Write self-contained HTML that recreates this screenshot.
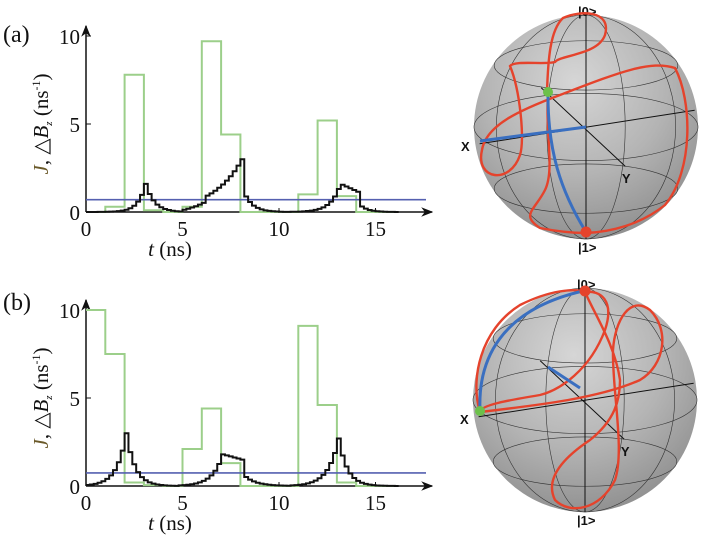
<!DOCTYPE html>
<html><head><meta charset="utf-8"><style>
body{margin:0;background:#fff;width:722px;height:535px;overflow:hidden}
svg{display:block}
text{font-family:"Liberation Serif",serif;fill:#111}
.tk{font-size:21px}
.bl{font-family:"Liberation Sans",sans-serif;font-weight:bold;font-size:13px}
</style></head><body>
<svg id="s" width="722" height="535" viewBox="0 0 722 535">
<defs>
<radialGradient id="g" cx="0.45" cy="0.3" r="0.75">
<stop offset="0" stop-color="#d6d6d6"/><stop offset="0.55" stop-color="#b4b4b4"/><stop offset="1" stop-color="#8c8c8c"/>
</radialGradient>
<marker id="ar" viewBox="0 0 10 10" refX="9" refY="5" markerWidth="8" markerHeight="8" orient="auto"><path d="M0,1 L10,5 L0,9 L3,5z" fill="#111"/></marker>
</defs>
<g id="plots"></g>
<text x="3" y="42" font-size="24">(a)</text>
<text x="3" y="310" font-size="24">(b)</text>
<g id="spheres"></g>
</svg>
<script>
const NS="http://www.w3.org/2000/svg";
function el(p,t,a,txt){const e=document.createElementNS(NS,t);for(const k in a)e.setAttribute(k,a[k]);if(txt!==undefined)e.textContent=txt;p.appendChild(e);return e;}
const P=document.getElementById('plots');
function plot(y0,green,blk,blue){
 const X=t=>86+t*19.3, Y=v=>y0-v*17.6;
 el(P,'line',{x1:86,y1:y0,x2:432,y2:y0,stroke:'#111','stroke-width':1.5,'marker-end':'url(#ar)'});
 el(P,'line',{x1:86,y1:y0,x2:86,y2:y0-186,stroke:'#111','stroke-width':1.5,'marker-end':'url(#ar)'});
 [0,5,10,15].forEach(t=>{el(P,'text',{x:X(t),y:y0+24,'text-anchor':'middle',class:'tk'},t);});
 [0,5,10].forEach(v=>{el(P,'text',{x:80,y:Y(v)+8,'text-anchor':'end',class:'tk'},v);
   if(v>0)el(P,'line',{x1:86,y1:Y(v),x2:91,y2:Y(v),stroke:'#111'});});
 [5,10,15].forEach(t=>el(P,'line',{x1:X(t),y1:y0,x2:X(t),y2:y0-4,stroke:'#111'}));
 const tl=el(P,'text',{x:170,y:y0+44,'text-anchor':'middle','font-size':'21'});
 tl.innerHTML='<tspan font-style="italic">t</tspan> (ns)';
 const yl=el(P,'text',{transform:`translate(48 ${y0-88}) rotate(-90)`,'text-anchor':'middle','font-size':'21'});
 yl.innerHTML='<tspan font-style="italic" fill="#6b5a2a">J</tspan>, △<tspan font-style="italic">B</tspan><tspan font-size="11" font-style="italic" dy="4">z</tspan><tspan dy="-4"> (ns</tspan><tspan font-size="12" dy="-8">-1</tspan><tspan dy="8">)</tspan>';
 let d=`M${X(0)},${Y(green[0])}`;
 green.forEach((v,i)=>{d+=`L${X(i)},${Y(v)}L${X(i+1)},${Y(v)}`;});
 el(P,'path',{d,fill:'none',stroke:'#9ccf8a','stroke-width':2});
 el(P,'line',{x1:X(0),y1:Y(blue),x2:426,y2:Y(blue),stroke:'#5560b0','stroke-width':1.6});
 let dt=0.2;d='';
 for(let t=0;t<16;t+=dt){const v=Math.max(0,blk(t+dt/2));d+=(t==0?`M${X(t)},${Y(v)}`:`L${X(t)},${Y(v)}`)+`L${X(t+dt)},${Y(v)}`;}
 el(P,'path',{d,fill:'none',stroke:'#111','stroke-width':2});
}
const ex=Math.exp;
function pk(t,c,a,r,f){return t<c?a*ex((t-c)/r):a*ex(-(t-c)/f);}
plot(212,[0,0.3,7.8,0.1,0,0.3,9.7,4.4,0,0,0,1.0,5.2,0.9,0,0],t=>{
 let v=0;
 if(t<5)v=pk(t,3.1,1.6,0.4,0.45);
 else if(t<10.5){if(t<8.2)v=Math.max(0,3.2*ex(-(8.2-t)*0.65)-0.3*(t<6.3));else v=pk(t,8.2,1.1,1,0.45);}
 else{if(t<13.2)v=1.6*ex((t-13.2)/0.5);else if(t<14.2)v=1.6-0.5*(t-13.2);else v=0.4*ex(-(t-14.2)/0.4);}
 return v;},0.7);
plot(486,[10,7.5,0.2,0.05,0,2.1,4.4,1.3,0,0,0,9.1,4.6,0.2,0,0],t=>{
 if(t<4.8)return pk(t,2.1,3.0,0.5,0.45);
 if(t<10.5){if(t<7.1)return 1.8*ex((t-7.1)/0.55);if(t<8.2)return 1.8-0.3*(t-7.1);return 0.6*ex(-(t-8.2)/0.6);}
 return pk(t,13.1,2.7,0.55,0.45);},0.74);

const S=document.getElementById('spheres');
function sphere(cx,cy,r,paths,blue,green,red){
 el(S,'circle',{cx,cy,r,fill:'url(#g)'});
 const g={fill:'none',stroke:'#333','stroke-width':0.6};
 el(S,'ellipse',Object.assign({cx,cy,rx:r,ry:r*0.3},g));
 el(S,'ellipse',Object.assign({cx,cy,rx:r*0.35,ry:r},g));
 el(S,'ellipse',Object.assign({cx:cx,cy:cy-r*0.55,rx:r*0.82,ry:r*0.22},g));
 el(S,'ellipse',Object.assign({cx:cx,cy:cy+r*0.55,rx:r*0.82,ry:r*0.22},g));
 el(S,'ellipse',Object.assign({cx:cx,cy,rx:r*0.8,ry:r},g));
 el(S,'line',{x1:cx,y1:cy-r,x2:cx,y2:cy+r,stroke:'#111','stroke-width':1});
 el(S,'line',{x1:cx-r*0.95,y1:cy+r*0.15,x2:cx+r*0.97,y2:cy-r*0.15,stroke:'#111','stroke-width':1});
 el(S,'line',{x1:cx-r*0.4,y1:cy-r*0.35,x2:cx+r*0.35,y2:cy+r*0.35,stroke:'#111','stroke-width':1});
 el(S,'text',{x:cx-r-13,y:cy+r*0.17+5,class:'bl'},'X');
 el(S,'text',{x:cx+r*0.32,y:cy+r*0.5,class:'bl'},'Y');
 el(S,'text',{x:cx-8,y:cy-r+1,class:'bl'},'|0>');
 el(S,'text',{x:cx-8,y:cy+r+13,class:'bl'},'|1>');
 paths.forEach(p=>el(S,'path',{d:p,fill:'none',stroke:'#e5432c','stroke-width':2.4}));
 el(S,'path',{d:blue,fill:'none',stroke:'#3a6fc0','stroke-width':3});
 el(S,'circle',{cx:green[0],cy:green[1],r:5,fill:'#6cc04a'});
 el(S,'circle',{cx:red[0],cy:red[1],r:5.5,fill:'#e5432c'});
}
sphere(586,127,112,[
 "M547,92 C548,60 550,30 563,18 C580,10 612,10 605,35 C598,55 560,55 555,62 C545,65 515,60 510,66 C520,90 525,140 520,155 C510,185 475,180 482,150 C486,125 520,110 560,95 C620,72 650,60 675,68 C692,100 694,170 665,205 C640,225 610,232 586,233",
 "M548,95 C545,130 555,170 545,190 C535,210 520,215 540,228 C560,232 575,233 586,233"
],"M480,141 L586,127 M548,96 C548,150 560,190 586,232",[548,92],[586,232]);
sphere(585,400,112,[
 "M480,412 C470,380 480,330 520,305 C550,290 575,288 585,292 C600,290 615,300 605,330 C590,370 560,390 540,395 C510,400 480,405 480,412",
 "M480,412 C540,405 600,398 640,380 C665,365 670,330 650,310 C630,295 615,320 613,350 C612,390 625,450 615,480 C600,510 570,515 555,500 C545,480 560,460 590,440 C615,420 620,400 620,380 C615,345 595,315 585,292"
],"M480,410 C478,360 500,310 583,291 M548,367 L580,388",[480,411],[585,291]);
</script>
</body></html>
